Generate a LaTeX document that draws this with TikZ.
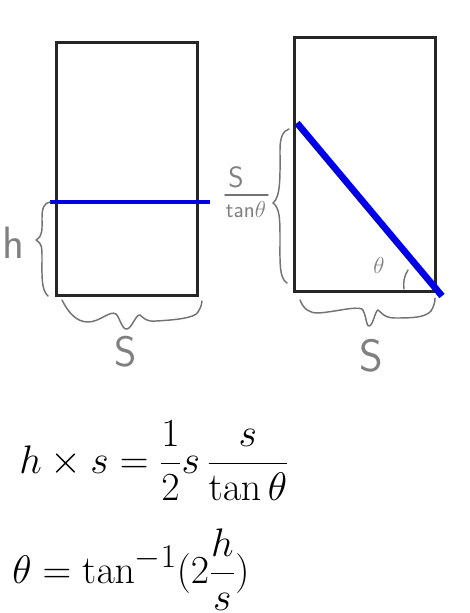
\documentclass[tikz,border=0pt]{standalone}
\usepackage{amsmath}
\usepackage{graphicx}
\begin{document}
\begin{tikzpicture}[x=0.75pt,y=-0.75pt,
  box/.style={draw=black!85,line width=2.3pt},
  bluebar/.style={draw=blue!90!black,line width=2.5pt},
  bluediag/.style={draw=blue!90!black,line width=5pt},
  hand/.style={draw=black!55,line width=1.1pt,line cap=round,line join=round},
  handtext/.style={text=black!50,font=\sffamily,inner sep=0pt},
  eq/.style={inner sep=0pt,anchor=west,font=\fontsize{24.88}{30}\selectfont}]
\useasboundingbox (0,0) rectangle (470,613);
% rectangles
\node[box,minimum width=141*0.75pt,minimum height=253*0.75pt,inner sep=0pt,anchor=north west] (L) at (55,41) {};
\node[box,minimum width=141*0.75pt,minimum height=254*0.75pt,inner sep=0pt,anchor=north west] (R) at (293,36) {};
% blue lines
\coordinate (hl1) at (50,202);
\coordinate (hl2) at (210,202);
\draw[bluebar] (hl1) -- (hl2);
\coordinate (d1) at (297,123);
\coordinate (d2) at (442,296);
\draw[bluediag] (d1) -- (d2);
% h brace
\draw[hand] (50,202) .. controls (44,203) and (42,208) .. (42,218)
  .. controls (42,230) and (43,236) .. (36,240)
  .. controls (42,243) and (42,248) .. (42,258)
  .. controls (42,275) and (41,290) .. (48,296);
\node[handtext,font=\sffamily\fontsize{34}{34}\selectfont] (hlab) at (13,243) {h};
% s/tan brace
\draw[hand] (289,129) .. controls (283,131) and (280,137) .. (280,150)
  .. controls (280,175) and (281,197) .. (273,203)
  .. controls (280,208) and (280,220) .. (280,240)
  .. controls (280,262) and (279,278) .. (287,283);
\node[handtext,font=\sffamily\fontsize{22}{22}\selectfont] (stop) at (236,177) {S};
\draw[hand] (225,195) -- (268,195);
\node[handtext,font=\sffamily\fontsize{17}{17}\selectfont] (sbot) at (246,210) {tan$\theta$};
% bottom left brace
\draw[hand] (62,300) .. controls (68,312) and (76,322) .. (88,322)
  .. controls (100,322) and (110,310) .. (116,314)
  .. controls (120,318) and (122,330) .. (127,329)
  .. controls (132,328) and (136,314) .. (140,315)
  .. controls (144,318) and (146,322) .. (156,321)
  .. controls (175,320) and (195,318) .. (198,312)
  .. controls (201,307) and (202,304) .. (202,301);
\node[handtext,font=\sffamily\fontsize{32}{32}\selectfont] (sL) at (126,352) {S};
% bottom right brace
\draw[hand] (300,300) .. controls (304,310) and (310,313) .. (318,313)
  .. controls (335,312) and (355,306) .. (362,309)
  .. controls (366,313) and (366,326) .. (369,326)
  .. controls (373,326) and (375,311) .. (378,310)
  .. controls (381,312) and (384,318) .. (395,318)
  .. controls (410,318) and (425,318) .. (431,311)
  .. controls (434,306) and (435,302) .. (435,298);
\node[handtext,font=\sffamily\fontsize{34}{34}\selectfont] (sR) at (371,356) {S};
% theta and arc
\node[handtext,font=\fontsize{17}{17}\selectfont] (th) at (379,265) {$\theta$};
\draw[hand] (408,270) .. controls (404,276) and (403,283) .. (404,289);
% equations
\node[eq] (eq1) at (19,461) {\scalebox{1.2}{$\displaystyle h\times s=\frac{1}{2}s\,\frac{s}{\tan\theta}$}};
\node[eq] (eq2) at (12,570) {\scalebox{1.2}{$\displaystyle \theta=\tan^{-1}(2\frac{h}{s})$}};
\end{tikzpicture}
\end{document}
